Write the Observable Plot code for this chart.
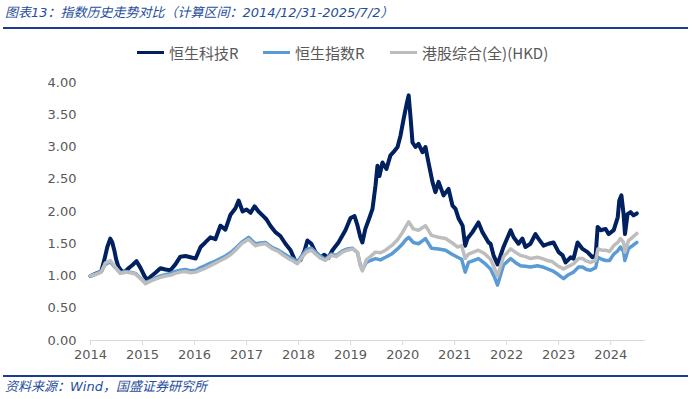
<!DOCTYPE html>
<html>
<head>
<meta charset="utf-8">
<script src="https://cdn.jsdelivr.net/npm/d3@7"></script>
<script src="https://cdn.jsdelivr.net/npm/@observablehq/plot@0.6"></script>
<style>
  html, body { margin: 0; padding: 0; background: #fff; }
  #wrap { position: relative; width: 700px; height: 399px; overflow: hidden; font-family: "DejaVu Sans", "Noto Sans CJK SC", sans-serif; }
  .note { position: absolute; left: 5px; font-size: 13px; font-style: italic; color: #1f4e9c; white-space: nowrap; line-height: 18px; }
  .rule { position: absolute; left: 3px; width: 685px; height: 2px; background: #1a3d8f; }
  .lg { position: absolute; top: 43px; height: 18px; display: flex; align-items: center; font-family: "Noto Sans CJK SC", sans-serif; font-size: 15px; color: #595959; white-space: nowrap; }
  .lg i { display: inline-block; width: 27px; height: 3px; margin-right: 5px; }
  #chart { position: absolute; left: 0; top: 66px; }
</style>
</head>
<body>
<div id="wrap">
  <div class="note" style="top:4px;">图表13：指数历史走势对比（计算区间：2014/12/31-2025/7/2）</div>
  <div class="rule" style="top:27px;"></div>
  <div class="lg" style="left:137px;"><i style="background:#002060"></i>恒生科技R</div>
  <div class="lg" style="left:263px;"><i style="background:#5b9bd5"></i>恒生指数R</div>
  <div class="lg" style="left:390px;"><i style="background:#bdbdbd"></i>港股综合(全)(HKD)</div>
  <div id="chart"></div>
  <div class="rule" style="top:375px;"></div>
  <div class="note" style="top:378px;">资料来源：Wind，国盛证券研究所</div>
</div>
<script>
// 恒生科技R
const techDates = ["2014-12-31","2015-02-11","2015-03-16","2015-04-07","2015-04-28","2015-05-19","2015-06-02","2015-06-16","2015-06-30","2015-07-14","2015-08-05","2015-08-26","2015-09-24","2015-10-22","2015-11-19","2015-12-16","2016-01-14","2016-02-04","2016-03-03","2016-03-31","2016-05-05","2016-06-09","2016-07-14","2016-08-18","2016-09-22","2016-10-28","2016-12-02","2017-01-07","2017-02-11","2017-03-16","2017-04-21","2017-05-26","2017-06-30","2017-08-04","2017-09-09","2017-10-14","2017-11-05","2017-12-03","2017-12-31","2018-01-28","2018-02-25","2018-03-25","2018-04-22","2018-05-19","2018-06-16","2018-07-21","2018-08-25","2018-09-30","2018-11-05","2018-12-10","2019-01-14","2019-02-12","2019-03-03","2019-03-31","2019-04-28","2019-06-03","2019-06-30","2019-07-28","2019-08-26","2019-10-07","2019-11-25","2019-12-31","2020-01-28","2020-02-18","2020-03-09","2020-03-23","2020-04-13","2020-05-11","2020-06-02","2020-06-23","2020-07-07","2020-07-21","2020-08-11","2020-09-08","2020-10-06","2020-10-27","2020-11-25","2020-12-16","2021-01-07","2021-01-28","2021-02-11","2021-02-25","2021-03-10","2021-03-31","2021-04-21","2021-05-19","2021-06-09","2021-06-30","2021-07-28","2021-08-18","2021-09-09","2021-10-14","2021-11-18","2021-12-16","2022-01-06","2022-01-28","2022-02-25","2022-03-15","2022-03-31","2022-05-05","2022-06-16","2022-07-14","2022-08-26","2022-09-09","2022-09-30","2022-10-28","2022-12-09","2023-01-28","2023-02-18","2023-03-24","2023-04-21","2023-05-12","2023-06-16","2023-07-21","2023-08-11","2023-09-16","2023-10-21","2023-11-25","2023-12-31","2024-01-28","2024-02-18","2024-03-24","2024-04-14","2024-05-12","2024-06-16","2024-07-21","2024-08-25","2024-09-16","2024-09-30","2024-10-21","2024-11-25","2024-12-16","2025-01-21","2025-02-18","2025-03-01","2025-03-16","2025-03-31","2025-04-10","2025-04-28","2025-05-19","2025-06-09","2025-07-02"];
const techValues = [1.00,1.04,1.07,1.25,1.45,1.58,1.52,1.40,1.25,1.15,1.08,1.06,1.12,1.17,1.23,1.13,1.00,0.94,1.00,1.05,1.12,1.10,1.09,1.18,1.30,1.31,1.29,1.27,1.45,1.52,1.60,1.57,1.78,1.72,1.95,2.05,2.17,2.00,2.03,1.98,2.08,2.00,1.94,1.88,1.78,1.68,1.62,1.50,1.40,1.22,1.25,1.40,1.55,1.50,1.37,1.29,1.33,1.28,1.40,1.52,1.71,1.90,1.93,1.78,1.60,1.52,1.73,1.90,2.04,2.40,2.71,2.55,2.76,2.66,2.87,2.92,3.00,3.18,3.44,3.67,3.80,3.44,3.07,3.00,3.05,2.92,3.00,2.76,2.46,2.30,2.46,2.25,2.35,2.09,2.04,1.89,1.78,1.47,1.58,1.68,1.83,1.68,1.52,1.50,1.32,1.18,1.45,1.71,1.60,1.50,1.58,1.45,1.50,1.65,1.58,1.47,1.50,1.52,1.37,1.32,1.21,1.29,1.27,1.52,1.42,1.37,1.29,1.32,1.76,1.71,1.73,1.65,1.71,1.91,2.17,2.25,1.96,1.65,1.96,1.99,1.94,1.97];

// 恒生指数R and 港股综合(全)(HKD) share dates
const broadDates = ["2014-12-31","2015-02-11","2015-03-16","2015-04-14","2015-05-19","2015-06-23","2015-07-28","2015-09-02","2015-10-07","2015-11-11","2015-12-16","2016-01-21","2016-02-25","2016-03-31","2016-05-05","2016-06-09","2016-07-14","2016-08-18","2016-09-22","2016-10-28","2016-12-02","2017-01-07","2017-02-11","2017-03-16","2017-04-21","2017-05-26","2017-06-30","2017-08-04","2017-09-09","2017-10-14","2017-11-25","2018-01-14","2018-03-02","2018-04-07","2018-05-12","2018-06-30","2018-08-11","2018-09-16","2018-10-21","2018-11-18","2018-12-23","2019-01-28","2019-02-25","2019-03-31","2019-05-05","2019-06-02","2019-07-07","2019-08-18","2019-09-22","2019-11-04","2019-12-09","2020-01-14","2020-02-18","2020-03-09","2020-03-23","2020-04-20","2020-05-18","2020-06-23","2020-07-28","2020-09-02","2020-10-14","2020-11-25","2020-12-31","2021-01-21","2021-02-11","2021-03-16","2021-04-21","2021-06-09","2021-07-21","2021-09-09","2021-10-28","2021-12-09","2022-01-21","2022-02-18","2022-03-15","2022-04-07","2022-05-12","2022-06-16","2022-07-28","2022-09-09","2022-10-07","2022-10-28","2022-12-09","2023-01-28","2023-03-02","2023-04-07","2023-05-12","2023-06-16","2023-08-04","2023-09-09","2023-10-14","2023-11-18","2023-12-23","2024-02-04","2024-03-09","2024-04-14","2024-05-19","2024-06-16","2024-07-14","2024-08-11","2024-09-16","2024-10-02","2024-10-28","2024-11-25","2024-12-23","2025-01-21","2025-02-18","2025-03-09","2025-03-31","2025-04-09","2025-05-05","2025-06-02","2025-07-02"];
const hsiValues = [1.00,1.04,1.07,1.18,1.22,1.13,1.05,1.07,1.06,1.04,0.97,0.90,0.93,0.97,1.00,1.02,1.04,1.07,1.09,1.10,1.08,1.09,1.13,1.16,1.20,1.23,1.27,1.31,1.36,1.43,1.52,1.60,1.50,1.51,1.52,1.44,1.40,1.35,1.30,1.27,1.22,1.33,1.41,1.43,1.36,1.31,1.26,1.34,1.32,1.39,1.42,1.43,1.36,1.17,1.10,1.21,1.24,1.27,1.25,1.29,1.34,1.42,1.50,1.56,1.60,1.52,1.50,1.58,1.43,1.42,1.40,1.34,1.29,1.26,1.06,1.21,1.24,1.27,1.20,1.11,0.98,0.86,1.17,1.27,1.21,1.16,1.15,1.14,1.16,1.14,1.11,1.08,1.03,0.96,1.02,1.06,1.14,1.14,1.10,1.09,1.13,1.29,1.26,1.24,1.24,1.34,1.39,1.45,1.38,1.24,1.43,1.47,1.52];
const compValues = [1.00,1.03,1.06,1.20,1.24,1.14,1.04,1.06,1.05,1.03,0.96,0.88,0.92,0.95,0.98,1.00,1.01,1.04,1.06,1.07,1.05,1.06,1.09,1.12,1.16,1.20,1.24,1.28,1.33,1.40,1.50,1.57,1.47,1.49,1.50,1.42,1.38,1.32,1.27,1.24,1.19,1.30,1.37,1.40,1.33,1.28,1.24,1.32,1.30,1.37,1.40,1.42,1.37,1.15,1.08,1.25,1.30,1.37,1.36,1.40,1.47,1.56,1.68,1.76,1.84,1.73,1.71,1.78,1.63,1.60,1.58,1.52,1.45,1.47,1.27,1.34,1.37,1.40,1.35,1.26,1.12,1.00,1.30,1.42,1.37,1.32,1.30,1.27,1.29,1.27,1.24,1.22,1.16,1.11,1.15,1.19,1.27,1.27,1.23,1.21,1.24,1.42,1.40,1.40,1.38,1.47,1.52,1.58,1.52,1.37,1.55,1.60,1.66];

const yTicks = [0, 0.5, 1, 1.5, 2, 2.5, 3, 3.5, 4];
const xTickYears = [2014, 2015, 2016, 2017, 2018, 2019, 2020, 2021, 2022, 2023, 2024];

const parse = d3.utcParse("%Y-%m-%d");
const tech = techDates.map((d, i) => ({date: parse(d), value: techValues[i]}));
const hsi = broadDates.map((d, i) => ({date: parse(d), value: hsiValues[i]}));
const comp = broadDates.map((d, i) => ({date: parse(d), value: compValues[i]}));
const xTicks = xTickYears.map(y => new Date(Date.UTC(y, 11, 31)));
const xDomain = [parse("2014-12-31"), parse("2025-09-01")];

const chart = Plot.plot({
  width: 700,
  height: 304,
  marginTop: 16,
  marginBottom: 30,
  marginLeft: 90,
  marginRight: 55,
  style: {fontFamily: "DejaVu Sans, sans-serif", fontSize: "13px", background: "transparent"},
  x: {type: "utc", domain: xDomain},
  y: {domain: [0, 4]},
  marks: [
    Plot.axisY(yTicks, {tickSize: 0, tickPadding: 14, tickFormat: d3.format(".2f"), fill: "#595959", label: null}),
    Plot.axisX(xTicks, {tickSize: 5, tickPadding: 4, stroke: "#d9d9d9", fill: "#595959", tickFormat: d => String(d.getUTCFullYear()), label: null}),
    Plot.ruleY([0], {x1: xDomain[0], x2: xDomain[1], stroke: "#d9d9d9"}),
    Plot.line(tech, {x: "date", y: "value", stroke: "#002060", strokeWidth: 4, strokeLinejoin: "round"}),
    Plot.line(hsi, {x: "date", y: "value", stroke: "#5b9bd5", strokeWidth: 3.5, strokeLinejoin: "round"}),
    Plot.line(comp, {x: "date", y: "value", stroke: "#bdbdbd", strokeWidth: 3.5, strokeLinejoin: "round"})
  ]
});
document.getElementById("chart").appendChild(chart);
</script>
</body>
</html>
